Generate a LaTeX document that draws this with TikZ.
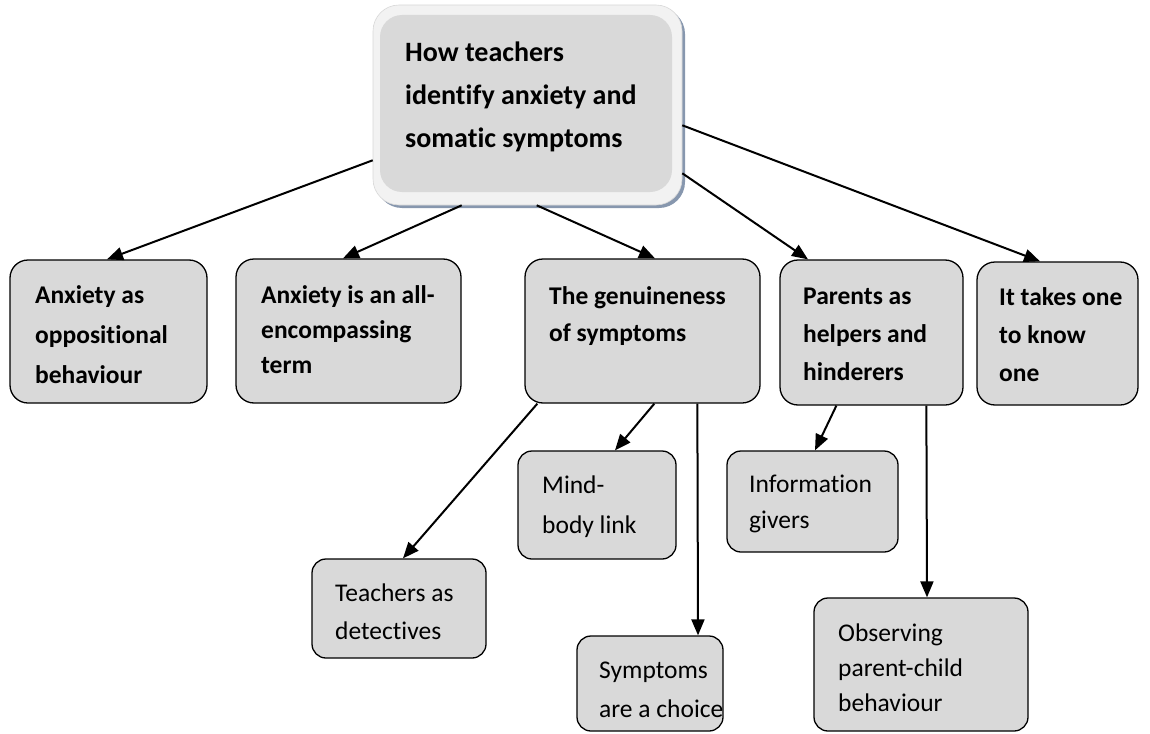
\documentclass[tikz,border=0pt]{standalone}
\usepackage{fontspec}
\setmainfont[Ligatures={NoCommon}]{Carlito}
\usetikzlibrary{arrows.meta}
\definecolor{boxfill}{HTML}{D9D9D9}
\definecolor{shadowc}{HTML}{8797AE}
\definecolor{frame}{HTML}{F2F2F2}
\definecolor{frameedge}{HTML}{D8D8D8}
\newcommand{\toptxt}[1]{\parbox[t]{300pt}{\raggedright\fontsize{28}{43}\selectfont\bfseries #1}}
\newcommand{\btxt}[2][38]{\parbox[t]{300pt}{\raggedright\fontsize{25.5}{#1}\selectfont\bfseries #2}}
\newcommand{\rtxt}[2][39]{\parbox[t]{300pt}{\raggedright\fontsize{25.5}{#1}\selectfont #2}}
\begin{document}
\begin{tikzpicture}[x=1pt,y=-1pt,
  box/.style={draw=black, fill=boxfill, line width=1.3pt, rounded corners=18pt, inner sep=0pt},
  sbox/.style={box, rounded corners=14pt},
  lbl/.style={anchor=base west, inner sep=0pt},
  arr/.style={line width=2pt, -{Triangle[length=16pt,width=13pt]}}]
\useasboundingbox (0,0) rectangle (1150,733);

% top node
\node[fill=shadowc, rounded corners=26pt, minimum width=309pt, minimum height=200pt, inner sep=0pt] (tops) at (530.5,108) {};
\node[fill=frame, draw=frameedge, line width=0.6pt, rounded corners=26pt, minimum width=309pt, minimum height=200pt, inner sep=0pt] (top) at (527.5,105) {};
\node[fill=boxfill, rounded corners=22pt, minimum width=292pt, minimum height=177pt, inner sep=0pt] (topin) at (526,103.5) {};
\node[lbl] (topt) at (405,62) {\toptxt{How teachers\\identify anxiety and\\somatic symptoms}};

% level 1
\node[box, minimum width=197pt, minimum height=143pt] (a1) at (108.5,331.5) {};
\node[lbl] (a1t) at (35,303) {\btxt[40]{Anxiety as\\oppositional\\behaviour}};
\node[box, minimum width=225pt, minimum height=144pt] (a2) at (348.5,331) {};
\node[lbl] (a2t) at (261,303) {\btxt[35]{Anxiety is an all-\\encompassing\\term}};
\node[box, minimum width=235pt, minimum height=144pt] (a3) at (642.5,331) {};
\node[lbl] (a3t) at (549,304) {\btxt[37]{The genuineness\\of symptoms}};
\node[box, minimum width=183pt, minimum height=145pt] (a4) at (871.5,332.5) {};
\node[lbl] (a4t) at (803,304) {\btxt{Parents as\\helpers and\\hinderers}};
\node[box, minimum width=161pt, minimum height=143pt] (a5) at (1057.5,333.5) {};
\node[lbl] (a5t) at (999,305) {\btxt{It takes one\\to know\\one}};

% level 2
\node[sbox, minimum width=158pt, minimum height=108pt] (mb) at (597,505) {};
\node[lbl] (mbt) at (542,493) {\rtxt[40]{Mind-\\body link}};
\node[sbox, minimum width=174pt, minimum height=99pt] (td) at (399,608.5) {};
\node[lbl] (tdt) at (335,601) {\rtxt[38]{Teachers as\\detectives}};
\node[sbox, minimum width=146pt, minimum height=95pt] (sc) at (650,683.5) {};
\node[lbl] (sct) at (599,678) {\rtxt{Symptoms\\are a choice}};
\node[sbox, minimum width=171pt, minimum height=101pt] (ig) at (812.5,501.5) {};
\node[lbl] (igt) at (749,492) {\rtxt[36]{Information\\givers}};
\node[sbox, minimum width=214pt, minimum height=133pt] (ob) at (921,664.5) {};
\node[lbl] (obt) at (838,641) {\rtxt[35]{Observing\\parent-child\\behaviour}};

% connectors
\draw[arr] ([yshift=45pt]top.south west) -- ([xshift=-1.5pt]a1.north);
\draw[arr] ([xshift=89pt]top.south west) -- ([xshift=-5.5pt]a2.north);
\draw[arr] ([xshift=164pt]top.south west) -- ([xshift=12.5pt]a3.north);
\draw[arr] ([yshift=32pt]top.south east) -- ([xshift=-63.5pt]a4.north);
\draw[arr] ([yshift=80pt]top.south east) -- ([xshift=-17.5pt]a5.north);

\draw[arr] ([xshift=13pt]a3.south west) -- ([xshift=4pt]td.north);
\draw[arr] ([xshift=130pt]a3.south west) -- ([xshift=18pt]mb.north);
\draw[arr] ([xshift=173pt]a3.south west) -- ([xshift=48pt]sc.north);
\draw[arr] ([xshift=57pt]a4.south west) -- ([xshift=2.5pt]ig.north);
\draw[arr] ([xshift=147pt]a4.south west) -- ([xshift=6pt]ob.north);
\end{tikzpicture}
\end{document}
